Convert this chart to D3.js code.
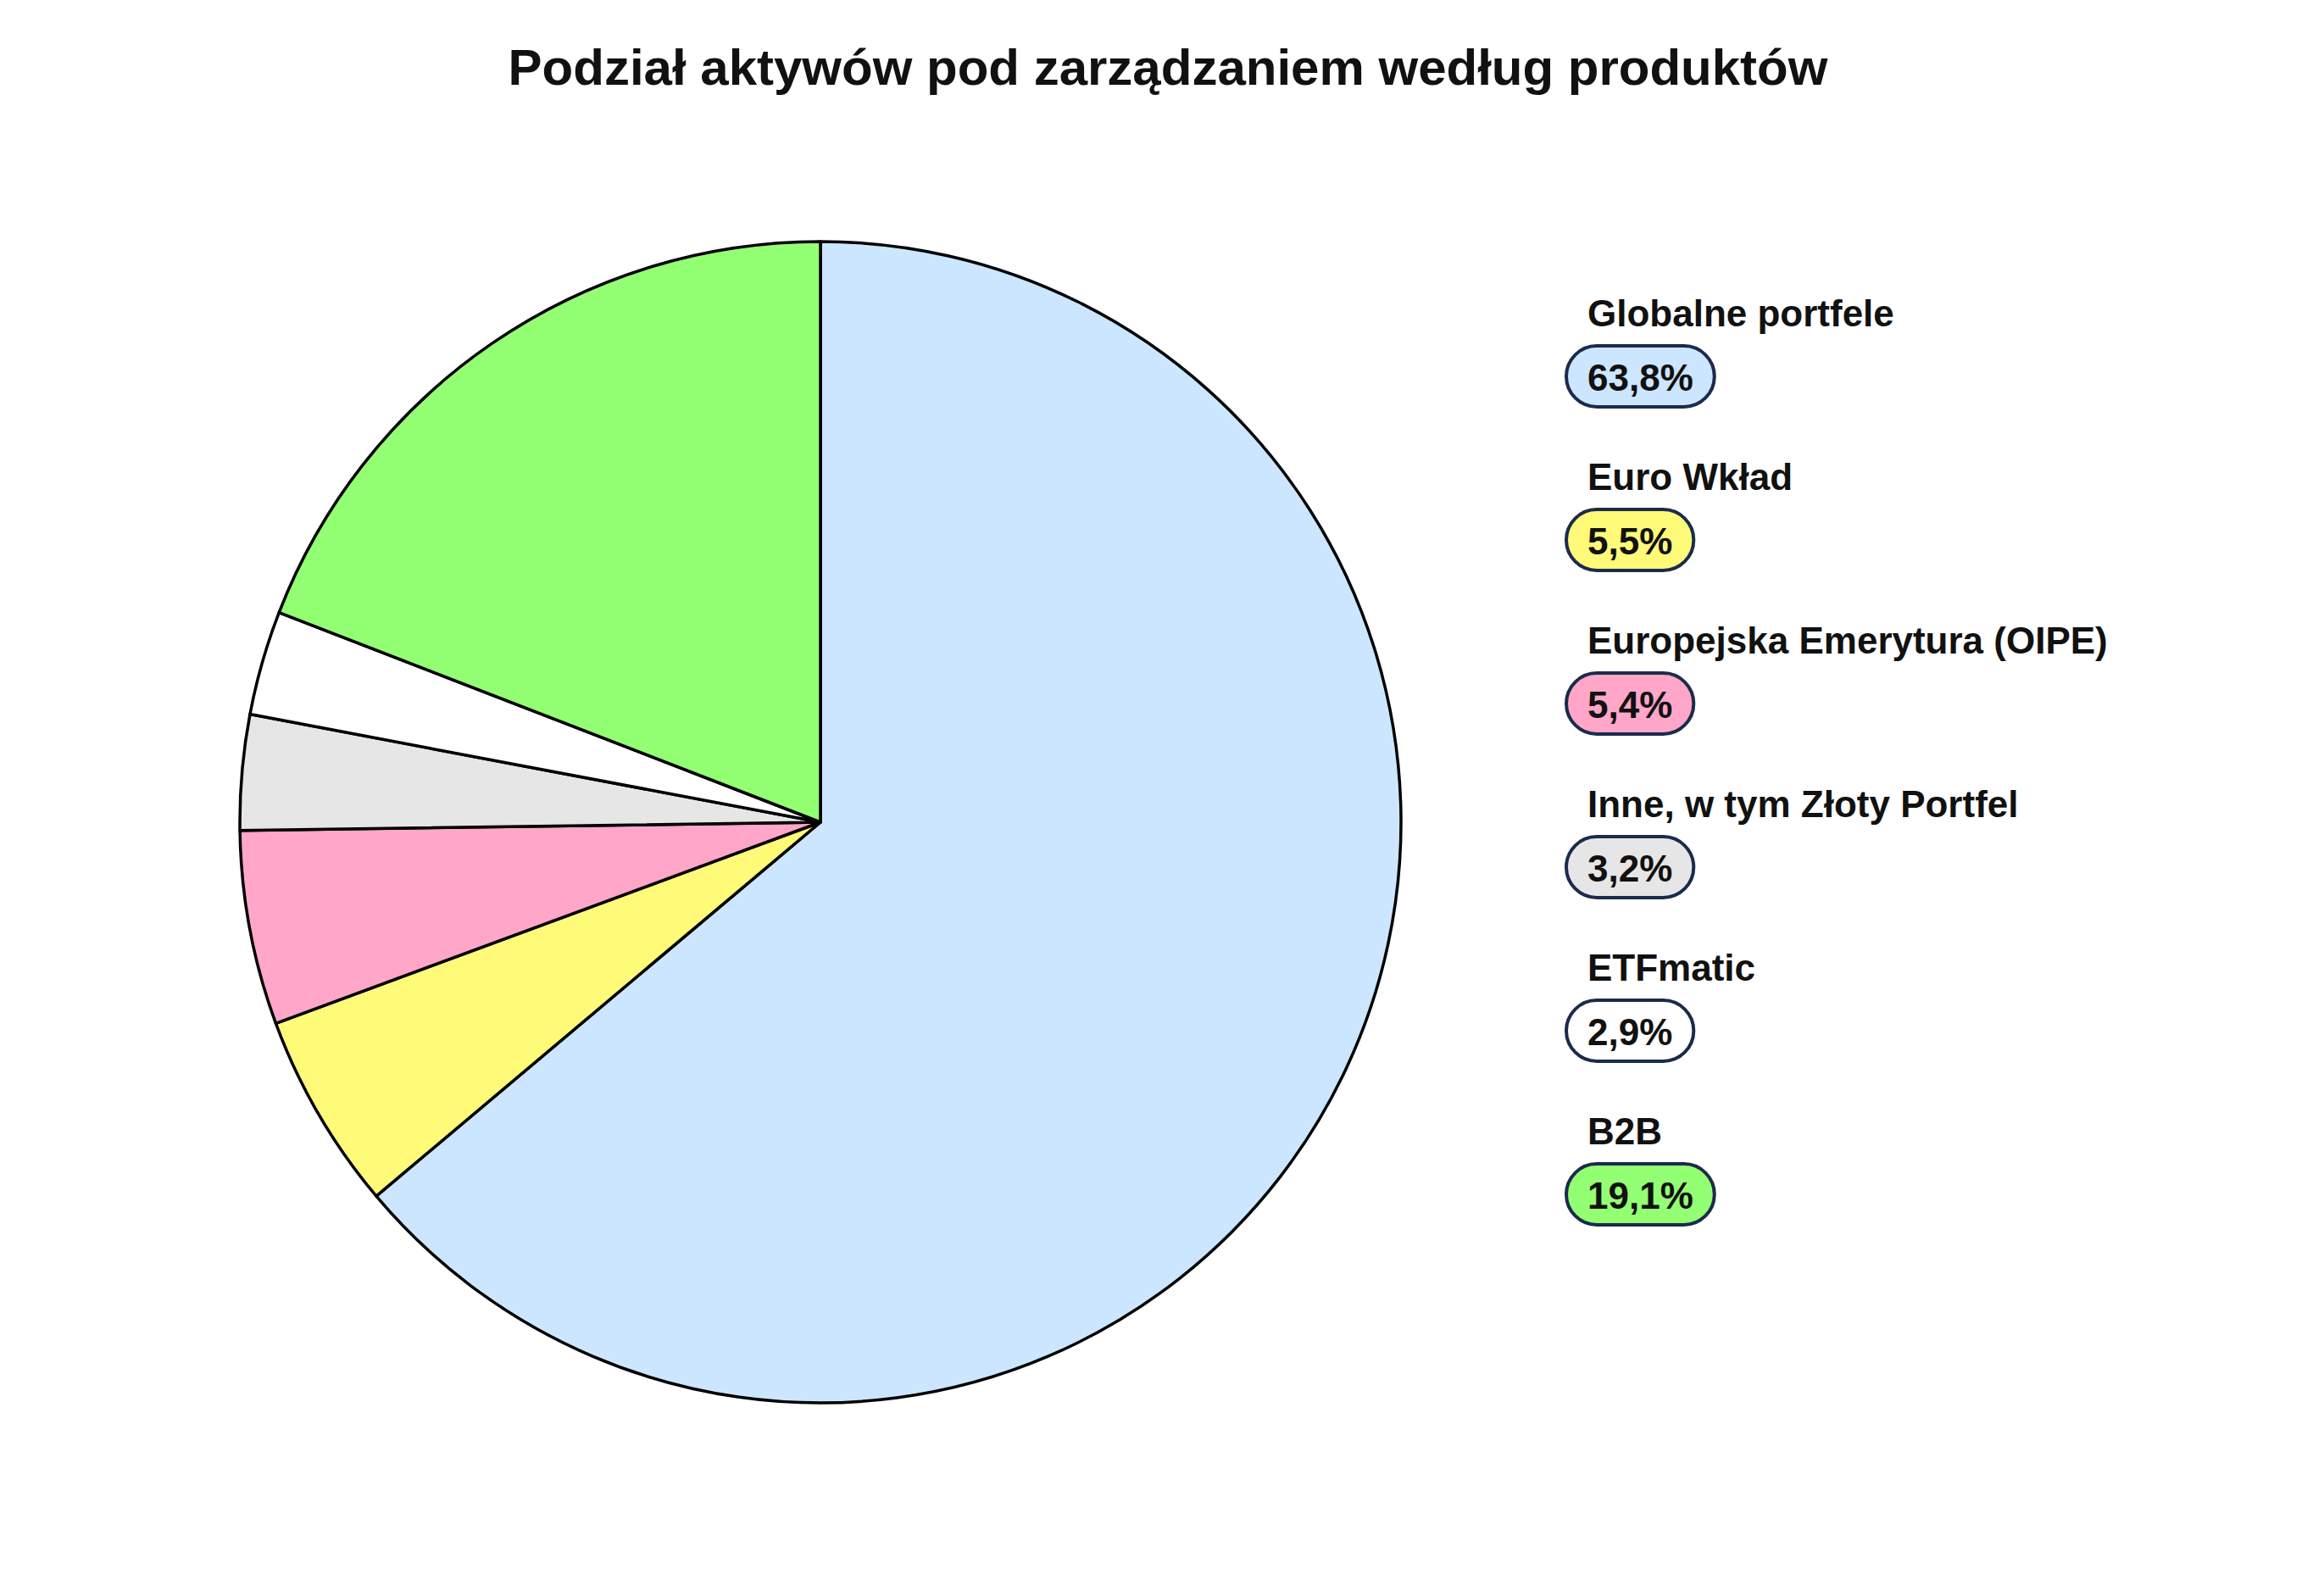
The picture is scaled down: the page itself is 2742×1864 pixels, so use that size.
<!DOCTYPE html>
<html>
<head>
<meta charset="utf-8">
<script src="https://cdn.jsdelivr.net/npm/d3@7"></script>
<style>
  body { margin: 0; background: #fff; }
  text { font-family: "Liberation Sans", Arial, sans-serif; font-weight: bold; fill: #111; }
</style>
</head>
<body>
<svg id="chart"></svg>
<script>
'use strict';

var categories = ['Globalne portfele', 'Euro Wkład', 'Europejska Emerytura (OIPE)', 'Inne, w tym Złoty Portfel', 'ETFmatic', 'B2B']
var values = [63.8, 5.5, 5.4, 3.2, 2.9, 19.1]
var valueLabels = ['63,8%', '5,5%', '5,4%', '3,2%', '2,9%', '19,1%']
var colors = ['#cce6ff', '#fffa78', '#ffa6c9', '#e6e6e6', '#ffffff', '#93ff73']

var svgWidth = 2742, svgHeight = 1864;

var svg = d3.select('#chart')
    .attr('width', svgWidth)
    .attr('height', svgHeight);

svg.append('text')
    .attr('x', 1378)
    .attr('y', 100)
    .attr('text-anchor', 'middle')
    .style('font-size', '60px')
    .text('Podział aktywów pod zarządzaniem według produktów');

var radius = 685;
var g = svg.append('g')
    .attr('transform', 'translate(968,970)');

var pie = d3.pie().sort(null).value(function (d) { return d });
var arc = d3.arc().innerRadius(0).outerRadius(radius);

g.selectAll('path')
    .data(pie(values))
    .enter().append('path')
    .attr('d', arc)
    .attr('fill', function (d, i) { return colors[i] })
    .attr('stroke', '#000')
    .attr('stroke-width', 3.5)
    .attr('stroke-linejoin', 'round');

// legend
var legendY = d3.scalePoint().domain(categories).range([385, 1350]);

var legend = svg.selectAll('.legend')
    .data(categories)
    .enter().append('g')
    .attr('class', 'legend')
    .attr('transform', function (d) { return 'translate(1873,' + legendY(d) + ')' });

legend.append('text')
    .attr('x', 0)
    .attr('y', 0)
    .style('font-size', '44px')
    .text(function (d) { return d });

legend.each(function (d, i) {
    var el = d3.select(this);
    var t = el.append('text')
        .attr('x', 0)
        .attr('y', 76)
        .style('font-size', '44px')
        .text(valueLabels[i]);
    var w = t.node().getComputedTextLength();
    el.insert('rect', 'text:last-of-type')
        .attr('x', -25)
        .attr('y', 23)
        .attr('width', w + 50)
        .attr('height', 72)
        .attr('rx', 36)
        .attr('fill', colors[i])
        .attr('stroke', '#1b2b4b')
        .attr('stroke-width', 4);
});
</script>
</body>
</html>
